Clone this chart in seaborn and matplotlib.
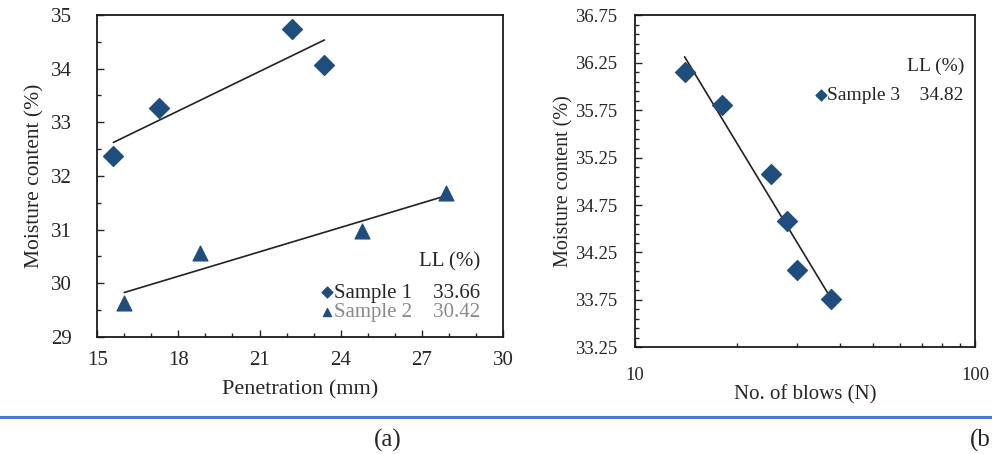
import numpy as np
import pandas as pd
import seaborn as sns
import matplotlib.pyplot as plt
from matplotlib.ticker import MultipleLocator, FixedLocator, NullFormatter

# data
pen_s1 = [15.6, 17.3, 22.2, 23.4]
mc_s1 = [32.37, 33.27, 34.73, 34.07]
pen_s2 = [16.0, 18.8, 24.8, 27.9]
mc_s2 = [29.63, 30.57, 30.98, 31.69]
ll_s1 = "33.66"
ll_s2 = "30.42"

blows_s3 = [14.0, 18.0, 25.1, 28.0, 29.9, 37.7]
mc_s3 = [36.15, 35.81, 35.08, 34.58, 34.07, 33.76]
ll_s3 = "34.82"

navy = "#1f4d7d"

sns.set_style("ticks")
plt.rcParams["font.family"] = ["Liberation Serif", "DejaVu Serif"]
plt.rcParams["axes.linewidth"] = 1.3

fig = plt.figure(figsize=(9.92, 4.54), dpi=100)
ax1 = fig.add_axes([0.098, 0.258, 0.409, 0.709])
ax2 = fig.add_axes([0.640, 0.235, 0.343, 0.731])

# (a) penetration
sns.scatterplot(x=pen_s1, y=mc_s1, ax=ax1, marker="D", s=105, color=navy,
                edgecolor=navy, label="Sample 1    " + ll_s1, zorder=3)
sns.scatterplot(x=pen_s2, y=mc_s2, ax=ax1, marker="^", s=115, color=navy,
                edgecolor=navy, label="Sample 2    " + ll_s2, zorder=3)
sns.regplot(x=np.array(pen_s1), y=np.array(mc_s1), ax=ax1, scatter=False, ci=None,
            line_kws=dict(color="#222222", lw=1.2))
sns.regplot(x=np.array(pen_s2), y=np.array(mc_s2), ax=ax1, scatter=False, ci=None,
            line_kws=dict(color="#222222", lw=1.2))
ax1.set_xlim(15, 30)
ax1.set_ylim(29, 35)
ax1.xaxis.set_major_locator(MultipleLocator(3))
ax1.xaxis.set_minor_locator(MultipleLocator(1))
ax1.yaxis.set_major_locator(MultipleLocator(1))
ax1.yaxis.set_minor_locator(MultipleLocator(0.5))
ax1.set_xlabel("Penetration (mm)", fontsize=16)
ax1.set_ylabel("Moisture content (%)", fontsize=15.5)
ax1.xaxis.set_label_coords(0.5, -0.135)
ax1.yaxis.set_label_coords(-0.13, 0.5)
ax1.tick_params(axis="both", which="major", direction="in", length=5, width=1,
                labelsize=15, top=False, right=False)
ax1.tick_params(axis="y", which="major", pad=18)
ax1.tick_params(axis="x", which="major", pad=10)
ax1.tick_params(axis="both", which="minor", direction="in", length=3, width=1,
                top=False, right=False)
leg1 = ax1.legend(title="LL (%)", loc="lower right", frameon=False, fontsize=15,
                  title_fontsize=15, handletextpad=0.05, handlelength=0.6,
                  labelspacing=0.0, borderaxespad=0.0, alignment="right",
                  markerscale=0.55, bbox_to_anchor=(0.965, 0.02))
leg1._legend_box.sep = 8
leg1.get_texts()[1].set_color("#8a8a8a")

# (b) number of blows
sns.scatterplot(x=blows_s3, y=mc_s3, ax=ax2, marker="D", s=105, color=navy,
                edgecolor=navy, label="Sample 3    " + ll_s3, zorder=3)
sns.regplot(x=np.array(blows_s3), y=np.array(mc_s3), ax=ax2, scatter=False, ci=None,
            logx=True, line_kws=dict(color="#222222", lw=1.2))
ax2.set_xscale("log")
ax2.set_xlim(10, 100)
ax2.set_ylim(33.25, 36.75)
ax2.xaxis.set_major_locator(FixedLocator([10, 100]))
ax2.xaxis.set_major_formatter(plt.FuncFormatter(lambda v, p: f"{v:.0f}"))
ax2.xaxis.set_minor_locator(FixedLocator(np.arange(20, 100, 10)))
ax2.xaxis.set_minor_formatter(NullFormatter())
ax2.yaxis.set_major_locator(FixedLocator(np.arange(33.25, 36.76, 0.5)))
ax2.yaxis.set_major_formatter(plt.FuncFormatter(lambda v, p: f"{v:.2f}"))
ax2.yaxis.set_minor_locator(FixedLocator(np.arange(33.25, 36.76, 0.1)))
ax2.set_xlabel("No. of blows (N)", fontsize=15)
ax2.set_ylabel("Moisture content (%)", fontsize=14.5)
ax2.xaxis.set_label_coords(0.5, -0.115)
ax2.yaxis.set_label_coords(-0.18, 0.5)
ax2.tick_params(axis="both", which="major", direction="in", length=5, width=1,
                labelsize=13.5, top=False, right=False)
ax2.tick_params(axis="y", which="major", pad=13)
ax2.tick_params(axis="x", which="major", pad=14)
ax2.tick_params(axis="both", which="minor", direction="in", length=3, width=1,
                top=False, right=False)
leg2 = ax2.legend(title="LL (%)", loc="upper right", frameon=False, fontsize=14,
                  title_fontsize=14, handletextpad=0.05, handlelength=0.6,
                  labelspacing=0.1, borderaxespad=0.0, alignment="right",
                  markerscale=0.55, bbox_to_anchor=(0.99, 0.895))
leg2._legend_box.sep = 8

for ax in (ax1, ax2):
    for sp in ax.spines.values():
        sp.set_visible(True)
        sp.set_color("#1a1a1a")

# page decoration below the panels
fig.add_artist(plt.Line2D([0, 1], [0.081, 0.081], transform=fig.transFigure,
                          color="#4a7bd0", lw=2.2))
fig.text(0.391, 0.03, "(a)", fontsize=18, ha="center", va="center")
fig.text(0.999, 0.03, "(b", fontsize=18, ha="right", va="center")

fig.savefig("out.png", dpi=100)
